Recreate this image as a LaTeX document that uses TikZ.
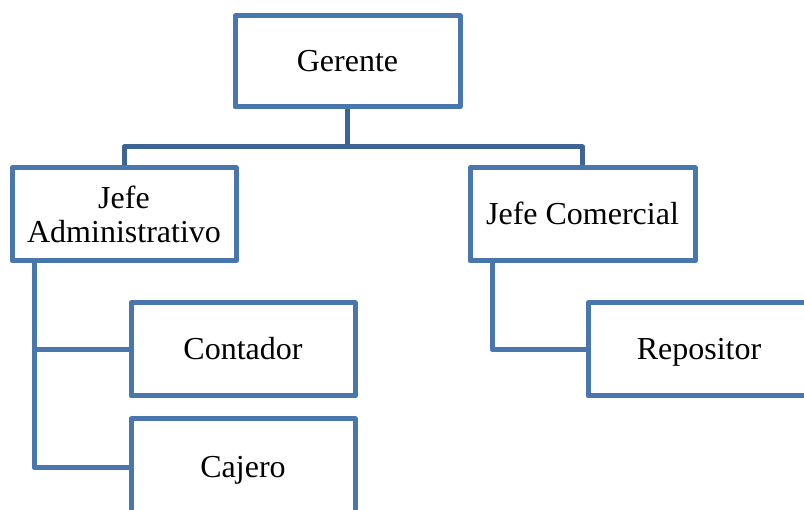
\documentclass[tikz,border=0pt]{standalone}
\usepackage{fontspec}
\setmainfont{Liberation Serif}
\usetikzlibrary{calc}
\definecolor{boxblue}{RGB}{74,118,174}
\definecolor{connblue}{RGB}{62,100,148}
\tikzset{
  box/.style={draw=boxblue, line width=5pt, line join=round, fill=white, rectangle,
    inner sep=0pt, minimum width=225pt, minimum height=93pt, align=center,
    font=\fontsize{32}{34}\selectfont, text=black},
  oneline/.style={text height=21pt, text depth=0pt},
  conn/.style={draw=connblue, line width=5pt, line join=round},
  sideconn/.style={draw=boxblue, line width=5pt, line join=round}
}
\begin{document}
\begin{tikzpicture}[x=1pt,y=-1pt]
\useasboundingbox (0,0) rectangle (804,510);
\clip (0,0) rectangle (804,510);
\coordinate (hbar) at (347.5,147);
\coordinate (ladm) at (34,261);
\coordinate (lcom) at (492,261);
\node[box, oneline, minimum height=91pt] (ger) at (347.5,61.5) {Gerente};
\node[box, minimum width=224pt] (ja) at (124,214.5) {Jefe\\Administrativo};
\node[box, oneline] (jc) at (582.5,214.5) {Jefe Comercial};
\node[box, oneline, minimum width=224pt] (cont) at (243,349.5) {Contador};
\node[box, oneline, minimum width=224pt, minimum height=97pt] (caj) at (243,467.5) {Cajero};
\node[box, oneline, minimum width=222pt] (rep) at (699,349.5) {Repositor};
\draw[conn] (ger.south) -- (hbar);
\draw[conn] (hbar) -| (ja.north);
\draw[conn] (hbar) -| (jc.north);
\draw[sideconn] (ladm) |- (cont.west);
\draw[sideconn] (ladm) |- (caj.west);
\draw[sideconn] (lcom) |- (rep.west);
\end{tikzpicture}
\end{document}
